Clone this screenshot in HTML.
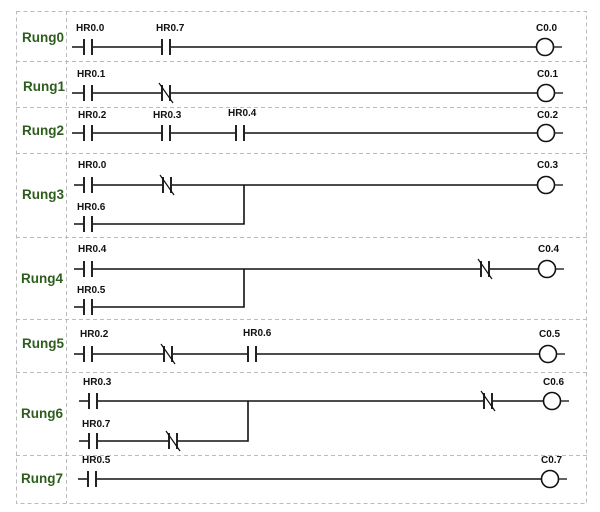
<!DOCTYPE html>
<html><head><meta charset="utf-8"><style>
html,body{margin:0;padding:0;background:#fff;}
svg{display:block;}
.w{stroke:#111;stroke-width:1.6;fill:none;}
.g{stroke:#bbb;stroke-width:1;stroke-dasharray:4 3;fill:none;}
.b{stroke:#222;stroke-width:2;}
.cover{fill:#fff;}
.lab{font-family:"Liberation Sans",sans-serif;font-weight:bold;font-size:10px;fill:#111;}
.r{font-family:"Liberation Sans",sans-serif;font-weight:bold;font-size:13.5px;fill:#2e5e1e;}
</style></head><body>
<svg width="600" height="512" viewBox="0 0 600 512" xmlns="http://www.w3.org/2000/svg">
<defs>
<g id="no"><rect class="cover" x="-3" y="-3" width="6" height="6"/><line class="b" x1="-4" y1="-8" x2="-4" y2="8"/><line class="b" x1="4" y1="-8" x2="4" y2="8"/></g>
<g id="nc"><rect class="cover" x="-3" y="-3" width="6" height="6"/><line class="b" x1="-4" y1="-8" x2="-4" y2="8"/><line class="b" x1="4" y1="-8" x2="4" y2="8"/><line stroke="#111" stroke-width="1.2" x1="-7" y1="-10" x2="7" y2="10"/></g>
<g id="coil"><circle cx="0" cy="0" r="8.5" fill="#fff" stroke="#111" stroke-width="1.6"/><line stroke="#222" stroke-width="1.4" x1="8.5" y1="0" x2="17" y2="0"/></g>
</defs>
<rect class="g" x="16.5" y="11.5" width="570" height="492"/>
<line class="g" x1="66.5" y1="11" x2="66.5" y2="503"/>
<line class="g" x1="16" y1="61.5" x2="587" y2="61.5"/>
<line class="g" x1="16" y1="107.5" x2="587" y2="107.5"/>
<line class="g" x1="16" y1="153.5" x2="587" y2="153.5"/>
<line class="g" x1="16" y1="237.5" x2="587" y2="237.5"/>
<line class="g" x1="16" y1="319.5" x2="587" y2="319.5"/>
<line class="g" x1="16" y1="372.5" x2="587" y2="372.5"/>
<line class="g" x1="16" y1="455.5" x2="587" y2="455.5"/>

<text class="r" x="22" y="42">Rung0</text>
<text class="r" x="23" y="91">Rung1</text>
<text class="r" x="22" y="135">Rung2</text>
<text class="r" x="22" y="199">Rung3</text>
<text class="r" x="21" y="283">Rung4</text>
<text class="r" x="22" y="348">Rung5</text>
<text class="r" x="21" y="418">Rung6</text>
<text class="r" x="21" y="483">Rung7</text>

<line class="w" x1="72" y1="47" x2="537" y2="47"/>
<use href="#no" x="88" y="47"/><use href="#no" x="166" y="47"/><use href="#coil" x="545" y="47"/>
<text class="lab" x="76" y="31">HR0.0</text><text class="lab" x="156" y="31">HR0.7</text><text class="lab" x="536" y="31">C0.0</text>

<line class="w" x1="72" y1="93" x2="537" y2="93"/>
<use href="#no" x="88" y="93"/><use href="#nc" x="166" y="93"/><use href="#coil" x="546" y="93"/>
<text class="lab" x="77" y="77">HR0.1</text><text class="lab" x="537" y="77">C0.1</text>

<line class="w" x1="72" y1="133" x2="537" y2="133"/>
<use href="#no" x="88" y="133"/><use href="#no" x="166" y="133"/><use href="#no" x="240" y="133"/><use href="#coil" x="546" y="133"/>
<text class="lab" x="78" y="118">HR0.2</text><text class="lab" x="153" y="118">HR0.3</text><text class="lab" x="228" y="116">HR0.4</text><text class="lab" x="537" y="118">C0.2</text>

<line class="w" x1="74" y1="185" x2="537" y2="185"/>
<polyline class="w" points="74,224 244,224 244,185"/>
<use href="#no" x="88" y="185"/><use href="#nc" x="167" y="185"/><use href="#no" x="88" y="224"/><use href="#coil" x="546" y="185"/>
<text class="lab" x="78" y="168">HR0.0</text><text class="lab" x="77" y="210">HR0.6</text><text class="lab" x="537" y="168">C0.3</text>

<line class="w" x1="74" y1="269" x2="538" y2="269"/>
<polyline class="w" points="74,307 244,307 244,269"/>
<use href="#no" x="88" y="269"/><use href="#no" x="88" y="307"/><use href="#nc" x="485" y="269"/><use href="#coil" x="547" y="269"/>
<text class="lab" x="78" y="252">HR0.4</text><text class="lab" x="77" y="293">HR0.5</text><text class="lab" x="538" y="252">C0.4</text>

<line class="w" x1="74" y1="354" x2="539" y2="354"/>
<use href="#no" x="88" y="354"/><use href="#nc" x="168" y="354"/><use href="#no" x="252" y="354"/><use href="#coil" x="548" y="354"/>
<text class="lab" x="80" y="337">HR0.2</text><text class="lab" x="243" y="336">HR0.6</text><text class="lab" x="539" y="337">C0.5</text>

<line class="w" x1="79" y1="401" x2="543" y2="401"/>
<polyline class="w" points="79,441 248,441 248,401"/>
<use href="#no" x="93" y="401"/><use href="#no" x="93" y="441"/><use href="#nc" x="173" y="441"/><use href="#nc" x="488" y="401"/><use href="#coil" x="552" y="401"/>
<text class="lab" x="83" y="385">HR0.3</text><text class="lab" x="82" y="427">HR0.7</text><text class="lab" x="543" y="385">C0.6</text>

<line class="w" x1="78" y1="479" x2="541" y2="479"/>
<use href="#no" x="92" y="479"/><use href="#coil" x="550" y="479"/>
<text class="lab" x="82" y="463">HR0.5</text><text class="lab" x="541" y="463">C0.7</text>
</svg>
</body></html>
